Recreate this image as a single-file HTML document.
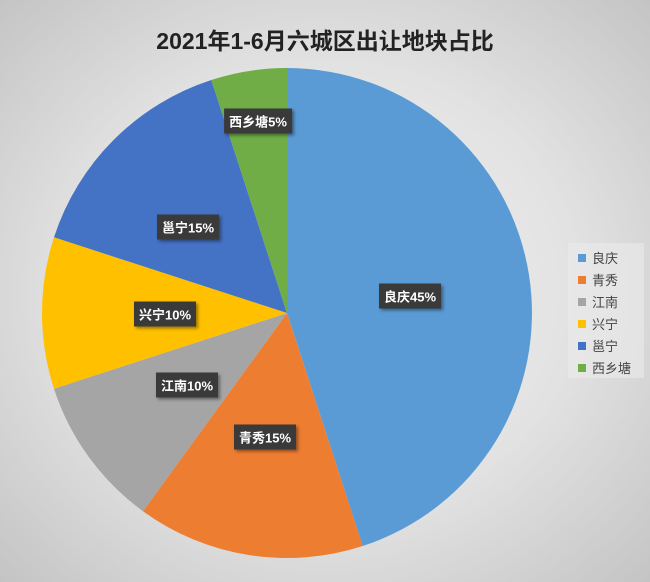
<!DOCTYPE html>
<html><head><meta charset="utf-8"><style>
body{margin:0;}
.c{position:relative;width:650px;height:582px;overflow:hidden;background:radial-gradient(ellipse at 50% 50%,#f4f4f4 0%,#e2e2e2 55%,#c4c4c4 100%);font-family:"Liberation Sans","Noto Sans CJK SC",sans-serif;}
.t{position:absolute;top:22px;left:0;width:650px;text-align:center;font-size:23px;font-weight:bold;color:#222;}
.l{position:absolute;background:#3a3a3a;color:#fff;font-size:13px;font-weight:bold;padding:3px 5px;box-shadow:2px 2px 3px rgba(0,0,0,.4);white-space:nowrap;transform:translate(-50%,-50%);}
.lg{position:absolute;left:568px;top:243px;width:76px;height:135px;background:rgba(235,235,235,.6);}
.li{position:absolute;left:10px;font-size:13px;color:#444;}
.li i{display:inline-block;width:8px;height:8px;margin-right:6px;vertical-align:1px;}
</style></head><body><div class="c">
<div class="t">2021年1-6月六城区出让地块占比</div>
<svg width="650" height="582" style="position:absolute;left:0;top:0">
<path d="M287,313 L287,68 A245,245 0 0 1 362.7,546 Z" fill="#5B9BD5"/>
<path d="M287,313 L362.7,546 A245,245 0 0 1 143,511.2 Z" fill="#ED7D31"/>
<path d="M287,313 L143,511.2 A245,245 0 0 1 54,388.7 Z" fill="#A5A5A5"/>
<path d="M287,313 L54,388.7 A245,245 0 0 1 54,237.3 Z" fill="#FFC000"/>
<path d="M287,313 L54,237.3 A245,245 0 0 1 211.3,80 Z" fill="#4472C4"/>
<path d="M287,313 L211.3,80 A245,245 0 0 1 287,68 Z" fill="#70AD47"/>
</svg>
<div class="l" style="left:410px;top:296px">良庆45%</div>
<div class="l" style="left:265px;top:437px">青秀15%</div>
<div class="l" style="left:187px;top:385px">江南10%</div>
<div class="l" style="left:165px;top:314px">兴宁10%</div>
<div class="l" style="left:188px;top:227px">邕宁15%</div>
<div class="l" style="left:258px;top:121px">西乡塘5%</div>
<div class="lg">
<div class="li" style="top:5px"><i style="background:#5B9BD5"></i>良庆</div>
<div class="li" style="top:27px"><i style="background:#ED7D31"></i>青秀</div>
<div class="li" style="top:49px"><i style="background:#A5A5A5"></i>江南</div>
<div class="li" style="top:71px"><i style="background:#FFC000"></i>兴宁</div>
<div class="li" style="top:93px"><i style="background:#4472C4"></i>邕宁</div>
<div class="li" style="top:115px"><i style="background:#70AD47"></i>西乡塘</div>
</div>
</div></body></html>
